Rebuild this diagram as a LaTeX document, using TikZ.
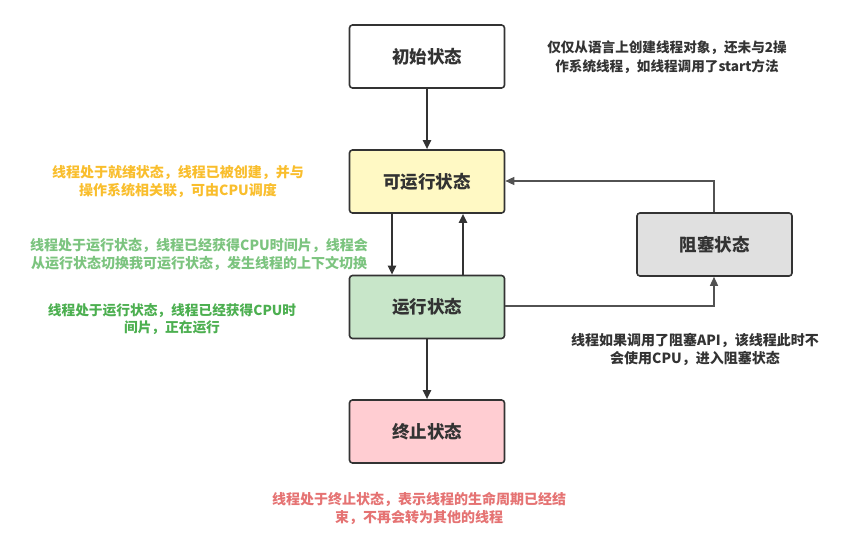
\documentclass[tikz,border=0pt]{standalone}
\usepackage{fontspec}
\setmainfont{Noto Sans CJK SC}
\usetikzlibrary{arrows.meta}
\definecolor{strokec}{HTML}{333333}
\definecolor{yfill}{HTML}{FFF9C4}
\definecolor{gfill}{HTML}{C8E6C9}
\definecolor{rfill}{HTML}{FFCDD2}
\definecolor{kfill}{HTML}{E0E0E0}
\definecolor{ytext}{HTML}{F9BE2D}
\definecolor{g1text}{HTML}{7CC47F}
\definecolor{g2text}{HTML}{4CAF50}
\definecolor{rtext}{HTML}{E57373}
\definecolor{dtext}{HTML}{333333}
\tikzset{
  state/.style={draw=strokec, line width=1.6pt, rounded corners=3pt, minimum width=155pt, minimum height=63pt, inner sep=0pt, font=\fontsize{17.5}{20}\selectfont\bfseries, text=dtext},
  note/.style={align=center, font=\fontsize{14}{18}\selectfont\bfseries, inner sep=0pt},
  conn/.style={draw=strokec, line width=2pt, -{Triangle[length=9pt,width=8pt]}},
  sconn/.style={draw=strokec!85, line width=1.4pt, -{Triangle[length=9pt,width=8pt]}}
}
\begin{document}
\begin{tikzpicture}[x=1pt,y=-1pt]
\useasboundingbox (0,0) rectangle (849,557);
\node[state, fill=white] (init) at (427,56.5) {初始状态};
\node[state, fill=yfill] (ready) at (427,181.5) {可运行状态};
\node[state, fill=gfill] (run) at (427,307) {运行状态};
\node[state, fill=rfill] (term) at (427,431.5) {终止状态};
\node[state, fill=kfill] (block) at (714.5,244.5) {阻塞状态};
\coordinate (bt) at (714,181);
\coordinate (rb) at (714,306);

\draw[conn] (init) -- (ready);
\draw[conn] (ready.south -| 392,0) -- (run.north -| 392,0);
\draw[conn] (run.north -| 463,0) -- (ready.south -| 463,0);
\draw[conn] (run) -- (term);
\draw[sconn] (block.north -| bt) -- (bt) -- (ready.east |- bt);
\draw[sconn] (run.east |- rb) -- (rb) -- (block.south -| rb);

\node[note, text=dtext, font=\fontsize{13.6}{19}\selectfont\bfseries] (n1) at (667,57.5) {仅仅从语言上创建线程对象，还未与2操\\作系统线程，如线程调用了start方法};
\node[note, text=ytext] (n2) at (178,181.5) {线程处于就绪状态，线程已被创建，并与\\操作系统相关联，可由CPU调度};
\node[note, text=g1text] (n3) at (199,254) {线程处于运行状态，线程已经获得CPU时间片，线程会\\从运行状态切换我可运行状态，发生线程的上下文切换};
\node[note, text=g2text, font=\fontsize{13.7}{17}\selectfont\bfseries] (n4) at (172,319) {线程处于运行状态，线程已经获得CPU时\\间片，正在运行};
\node[note, text=dtext] (n5) at (695,349.5) {线程如果调用了阻塞API，该线程此时不\\会使用CPU，进入阻塞状态};
\node[note, text=rtext] (n6) at (419,508.5) {线程处于终止状态，表示线程的生命周期已经结\\束，不再会转为其他的线程};
\end{tikzpicture}
\end{document}
